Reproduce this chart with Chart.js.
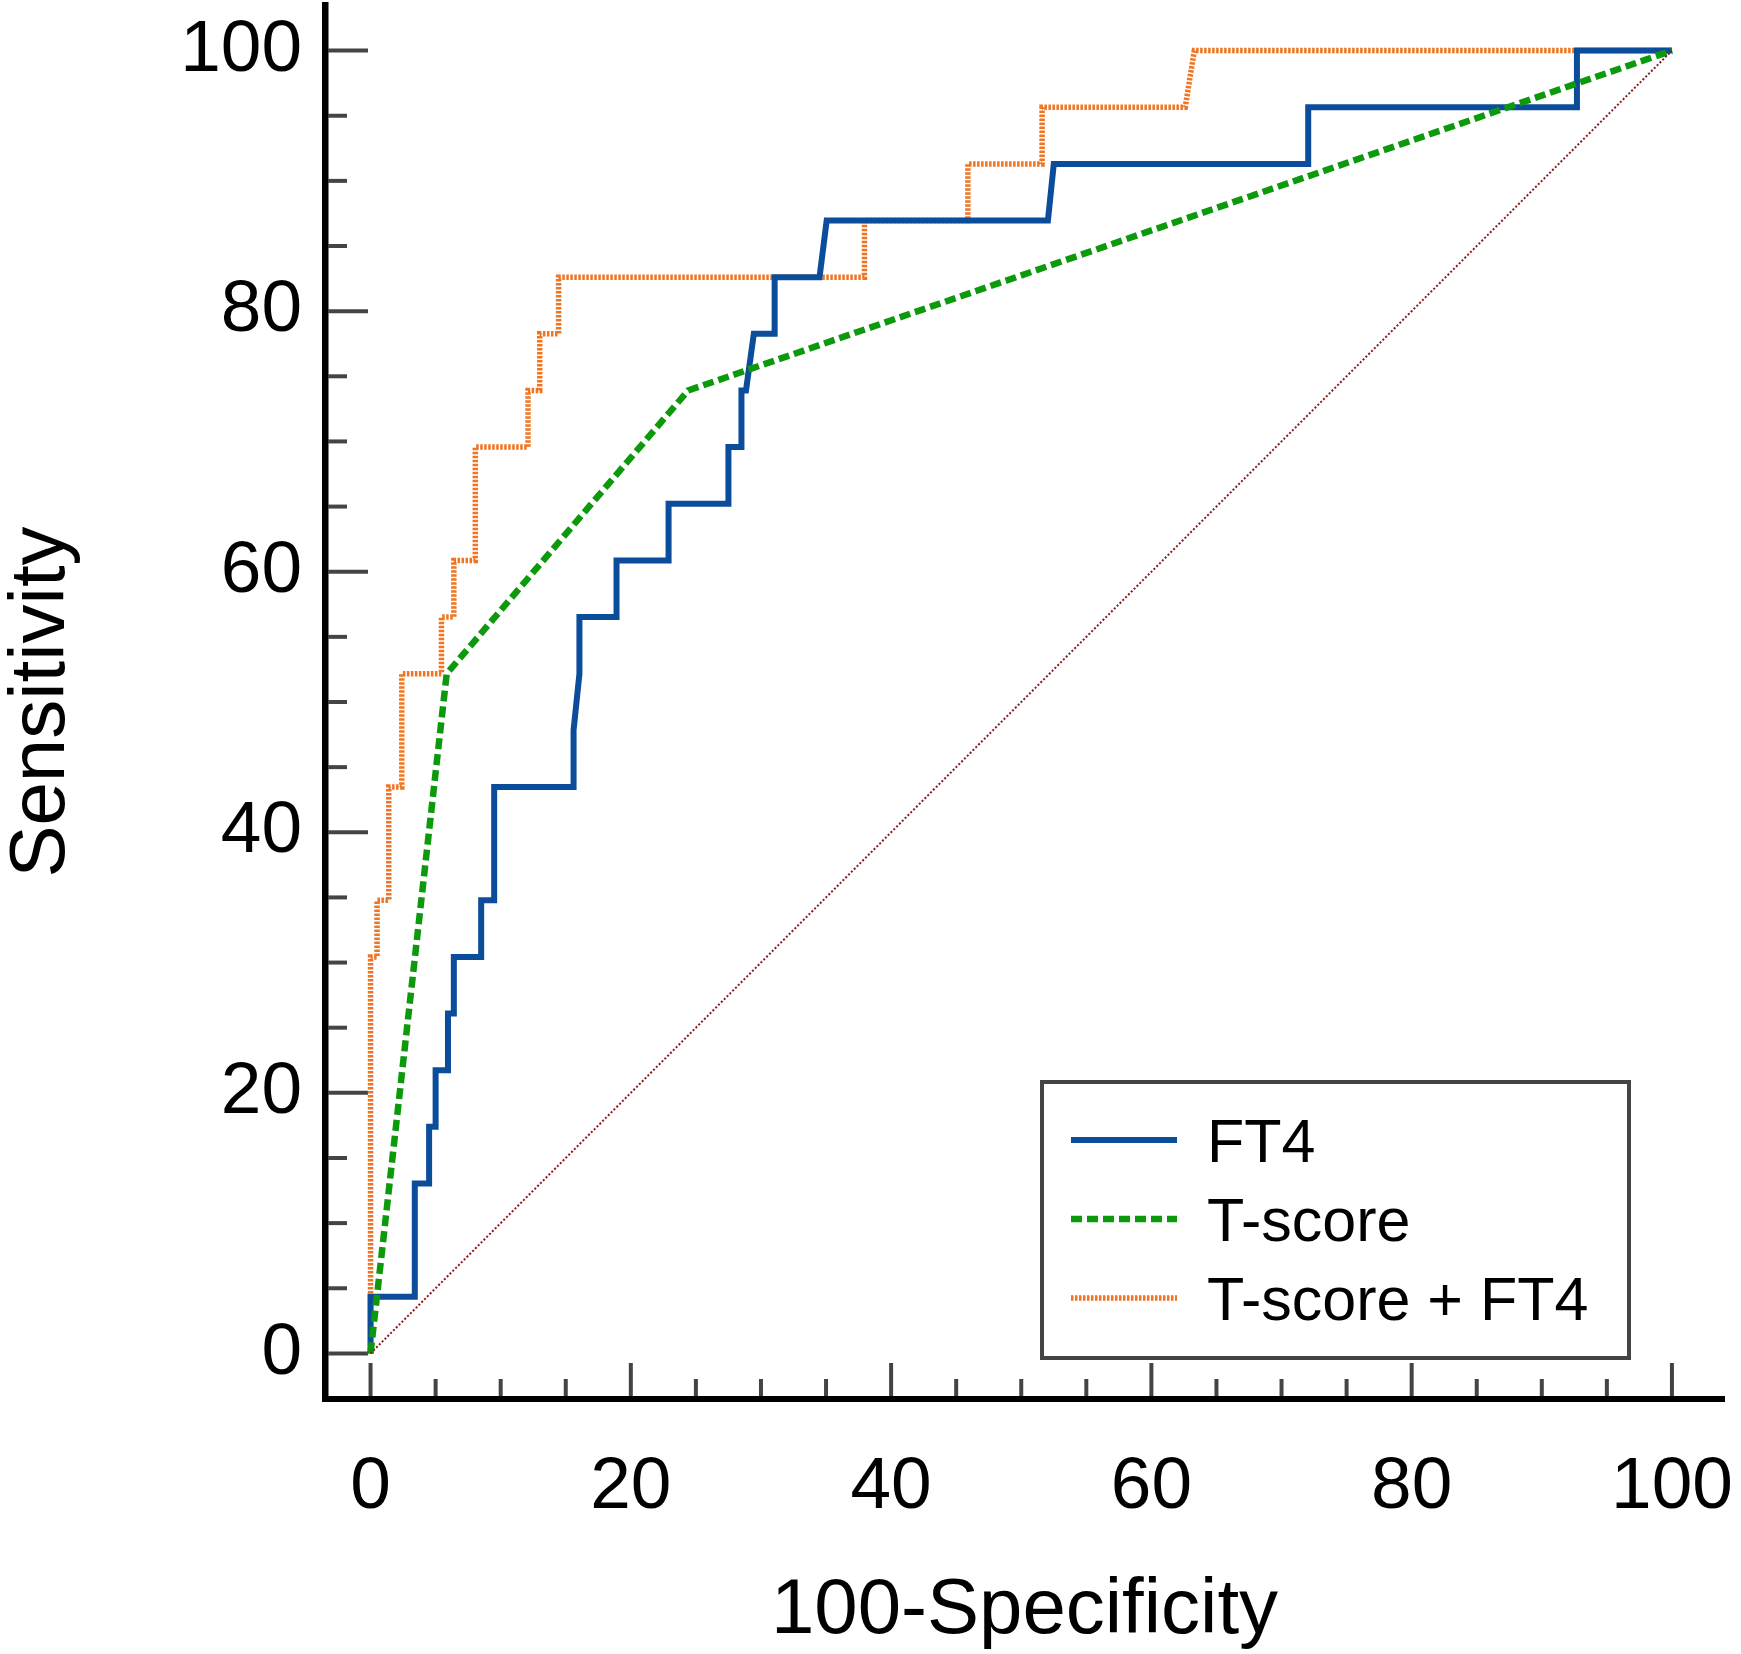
<!DOCTYPE html>
<html>
<head>
<meta charset="utf-8">
<script src="https://cdn.jsdelivr.net/npm/chart.js@4.4.1/dist/chart.umd.min.js"></script>
<style>
  html, body { margin: 0; padding: 0; background: #fff; }
  canvas { display: block; }
</style>
</head>
<body>
<canvas id="roc-canvas" width="1741" height="1654"></canvas>
<script>
// ROC corner points: x = 100-Specificity, y = Sensitivity
const ft4X = [0, 0, 3.4, 3.4, 4.5, 4.5, 5.0, 5.0, 5.95, 5.95, 6.4, 6.4, 8.5, 8.5, 9.5, 9.5,
  15.6, 15.6, 16.05, 16.05, 18.9, 18.9, 22.9, 22.9, 27.5, 27.5, 28.5, 28.5, 28.85, 29.45,
  31.05, 31.05, 34.5, 35.05, 52.05, 52.5, 72.05, 72.05, 92.7, 92.7, 100];
const ft4Y = [0, 4.35, 4.35, 13.04, 13.04, 17.39, 17.39, 21.74, 21.74, 26.09, 26.09, 30.43,
  30.43, 34.78, 34.78, 43.48, 43.48, 47.83, 52.17, 56.52, 56.52, 60.87, 60.87, 65.22, 65.22,
  69.57, 69.57, 73.91, 73.91, 78.26, 78.26, 82.61, 82.61, 86.96, 86.96, 91.3, 91.3, 95.65,
  95.65, 100, 100];

const tscoreX = [0, 5.85, 24.4, 100];
const tscoreY = [0, 52.17, 73.91, 100];

const comboX = [0, 0, 0.5, 0.5, 1.4, 1.4, 2.4, 2.4, 5.45, 5.45, 6.4, 6.4, 8.05, 8.05, 12.1,
  12.1, 13.0, 13.0, 14.45, 14.45, 37.95, 37.95, 45.9, 45.9, 51.6, 51.6, 62.6, 63.3, 100];
const comboY = [0, 30.43, 30.43, 34.78, 34.78, 43.48, 43.48, 52.17, 52.17, 56.52, 56.52,
  60.87, 60.87, 69.57, 69.57, 73.91, 73.91, 78.26, 78.26, 82.61, 82.61, 86.96, 86.96, 91.3,
  91.3, 95.65, 95.65, 100, 100];

const refX = [0, 100];
const refY = [0, 100];

const labelTicks = [0, 20, 40, 60, 80, 100];
const markTicks = [0, 5, 10, 15, 20, 25, 30, 35, 40, 45, 50, 55, 60, 65, 70, 75, 80, 85, 90, 95, 100];

const toPoints = (xs, ys) => xs.map((x, i) => ({ x, y: ys[i] }));

const FONT = "'Liberation Sans', Arial, sans-serif";

// tick marks point into the plot, so draw them by hand
const innerTicks = {
  id: "innerTicks",
  beforeDatasetsDraw(chart) {
    const { ctx, scales: { x, y } } = chart;
    ctx.save();
    ctx.strokeStyle = "#444";
    ctx.lineWidth = 4;
    markTicks.forEach((v) => {
      const major = labelTicks.includes(v);
      const py = y.getPixelForValue(v);
      ctx.beginPath();
      ctx.moveTo(x.left + 3, py);
      ctx.lineTo(x.left + 3 + (major ? 40 : 19), py);
      ctx.stroke();
      const px = x.getPixelForValue(v);
      ctx.beginPath();
      ctx.moveTo(px, y.bottom - 3);
      ctx.lineTo(px, y.bottom - 3 - (major ? 33 : 17));
      ctx.stroke();
    });
    ctx.restore();
  },
};

// boxed legend in the lower right of the plot
const boxLegend = {
  id: "boxLegend",
  afterDraw(chart, args, opts) {
    const { ctx } = chart;
    const { left, top, width, height, lineX, lineLen, textX, rowY } = opts;
    ctx.save();
    ctx.fillStyle = "#fff";
    ctx.fillRect(left, top, width, height);
    ctx.strokeStyle = "#444";
    ctx.lineWidth = 4;
    ctx.strokeRect(left, top, width, height);
    chart.data.datasets
      .filter((d) => d.legendRank)
      .sort((a, b) => a.legendRank - b.legendRank)
      .forEach((d, i) => {
        const yy = rowY[i];
        ctx.beginPath();
        ctx.strokeStyle = d.borderColor;
        ctx.lineWidth = d.borderWidth;
        ctx.setLineDash(d.borderDash || []);
        ctx.moveTo(lineX, yy);
        ctx.lineTo(lineX + lineLen, yy);
        ctx.stroke();
        ctx.setLineDash([]);
        ctx.fillStyle = "#000";
        ctx.font = `61px ${FONT}`;
        ctx.textBaseline = "alphabetic";
        ctx.fillText(d.label, textX, yy + 22);
      });
    ctx.restore();
  },
};

const tickFont = { family: FONT, size: 73 };
const titleFont = { family: FONT, size: 78, lineHeight: 1.1 };

// keep the plot box where the reference has it (no room kept for overhanging labels)
const noLabelPadding = (s) => {
  s.paddingLeft = 0;
  s.paddingRight = 0;
  s.paddingTop = 0;
  s.paddingBottom = 0;
};

new Chart(document.getElementById("roc-canvas"), {
  type: "line",
  plugins: [innerTicks, boxLegend],
  data: {
    datasets: [
      {
        label: "Reference",
        data: toPoints(refX, refY),
        borderColor: "#8b1a1a",
        borderWidth: 2,
        borderDash: [2, 2],
      },
      {
        label: "T-score",
        data: toPoints(tscoreX, tscoreY),
        borderColor: "#0c9a0c",
        borderWidth: 6.5,
        borderDash: [11, 5],
        legendRank: 2,
      },
      {
        label: "FT4",
        data: toPoints(ft4X, ft4Y),
        borderColor: "#0b4d9b",
        borderWidth: 6,
        legendRank: 1,
      },
      {
        label: "T-score + FT4",
        data: toPoints(comboX, comboY),
        borderColor: "#f07522",
        borderWidth: 5.5,
        borderDash: [2.5, 1.5],
        legendRank: 3,
      },
    ],
  },
  options: {
    responsive: false,
    animation: false,
    devicePixelRatio: 1,
    elements: {
      point: { radius: 0 },
      line: { tension: 0, borderCapStyle: "butt", borderJoinStyle: "miter" },
    },
    layout: { padding: { top: 5, right: 17, left: 0, bottom: 0 } },
    scales: {
      x: {
        type: "linear",
        min: -3.5,
        max: 104,
        afterBuildTicks: (s) => { s.ticks = labelTicks.map((value) => ({ value })); },
        afterFit: (s) => { s.height = 255; noLabelPadding(s); },
        ticks: { font: tickFont, color: "#000", padding: 45, maxRotation: 0 },
        grid: { display: false, drawTicks: false },
        border: { display: true, color: "#000", width: 6 },
        title: { display: true, text: "100-Specificity", font: titleFont, color: "#000", padding: 0 },
      },
      y: {
        type: "linear",
        min: -3.5,
        max: 103.5,
        afterBuildTicks: (s) => { s.ticks = labelTicks.map((value) => ({ value })); },
        afterFit: (s) => { s.width = 325; noLabelPadding(s); },
        ticks: { font: tickFont, color: "#000", padding: 23 },
        grid: { display: false, drawTicks: false },
        border: { display: true, color: "#000", width: 6.5 },
        title: { display: true, text: "Sensitivity", font: titleFont, color: "#000", padding: 0 },
      },
    },
    plugins: {
      legend: { display: false },
      tooltip: { enabled: false },
      boxLegend: {
        left: 1042,
        top: 1082,
        width: 587,
        height: 276,
        lineX: 1071,
        lineLen: 106,
        textX: 1207,
        rowY: [1140, 1219, 1298],
      },
    },
  },
});
</script>
</body>
</html>
